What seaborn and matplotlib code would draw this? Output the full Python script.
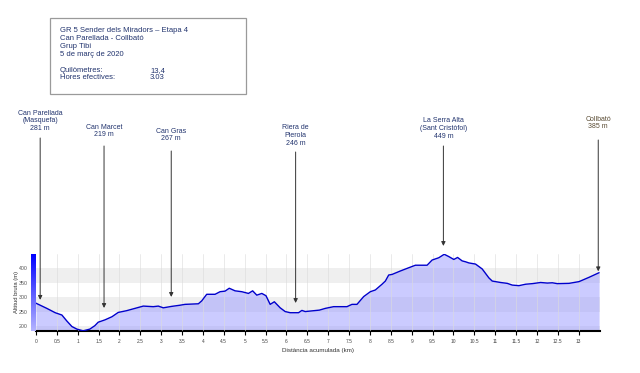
import numpy as np
import pandas as pd
import matplotlib
matplotlib.use("Agg")
import matplotlib.pyplot as plt
import seaborn as sns
from matplotlib.colors import LinearSegmentedColormap
from matplotlib.patches import Rectangle
from matplotlib.transforms import blended_transform_factory

# elevation profile
dist_km = [0.00, 0.26, 0.46, 0.62, 0.74, 0.86, 0.98, 1.13, 1.29, 1.41, 1.49, 1.65,
           1.82, 1.97, 2.17, 2.37, 2.57, 2.81, 2.93, 3.05, 3.25, 3.45, 3.57, 3.89,
           3.97, 4.09, 4.29, 4.41, 4.53, 4.63, 4.77, 4.93, 5.09, 5.19, 5.29, 5.41,
           5.51, 5.61, 5.71, 5.85, 5.97, 6.09, 6.29, 6.37, 6.45, 6.79, 6.93, 7.13,
           7.45, 7.57, 7.69, 7.85, 8.01, 8.13, 8.29, 8.37, 8.45, 8.53, 8.73, 8.89,
           9.09, 9.37, 9.49, 9.65, 9.78, 9.89, 10.01, 10.10, 10.21, 10.29, 10.37,
           10.53, 10.69, 10.85, 10.93, 11.13, 11.29, 11.41, 11.57, 11.73, 11.89,
           12.09, 12.25, 12.37, 12.49, 12.77, 13.01, 13.25, 13.37, 13.49]
alt_m = [279, 261, 246, 238, 217, 198, 189, 183, 189, 201, 213, 221,
         232, 247, 253, 261, 269, 267, 269, 263, 268, 272, 275, 277,
         287, 310, 310, 319, 321, 331, 322, 319, 313, 322, 307, 313,
         305, 275, 284, 263, 250, 246, 246, 254, 250, 255, 261, 267,
         267, 275, 275, 302, 319, 325, 345, 356, 377, 379, 391, 400,
         411, 411, 429, 437, 449, 441, 431, 438, 426, 423, 419,
         415, 398, 367, 356, 351, 348, 342, 340, 345, 347,
         351, 349, 350, 347, 348, 354, 369, 377, 385]

poi_names = ["Can Parellada\n(Masquefa)", "Can Marcet", "Can Gras",
             "Riera de\nPierola", "La Serra Alta\n(Sant Cristòfol)", "Collbató"]
poi_km = [0.10, 1.63, 3.24, 6.22, 9.76, 13.47]
poi_alt = [281, 219, 267, 246, 449, 385]

info_lines = ["GR 5 Sender dels Miradors – Etapa 4", "Can Parellada - Collbató",
              "Grup Tibi", "5 de març de 2020"]
info_keys = ["Quilòmetres:", "Hores efectives:"]
info_vals = ["13,4", "3.03"]

# layout (pixels from top of the figure)
W, H = 640, 373
label_py = [121, 131, 135, 135.5, 128.5, 123]
arrow_py = [138, 146, 151, 152, 146, 140]
tip_gap = [2, 9, 7, 7, 6, 1]
label_col = ["#22346e", "#22346e", "#22346e", "#22346e", "#22346e", "#5a4c34"]

sns.set_style("white")
plt.rcParams['font.family'] = ['Liberation Sans', 'DejaVu Sans']

fig = plt.figure(figsize=(6.4, 3.73), dpi=100)
ax = fig.add_axes([36 / W, 1 - 330.7 / H, 563.5 / W, 76.7 / H])

for lo in [150, 250, 350]:
    ax.axhspan(lo, lo + 50, color="#efefef", lw=0, zorder=0)
for x in np.arange(0.5, 13.5, 0.5):
    ax.axvline(x, color="#dcdcdc", lw=0.6, alpha=0.7, zorder=3)

df = pd.DataFrame({"km": dist_km, "alt": alt_m})
ax.fill_between(df["km"], df["alt"], 150, color="#9999ff", alpha=0.5, lw=0, zorder=2)
sns.lineplot(data=df, x="km", y="alt", ax=ax, color="#0000cc", lw=1.0, zorder=4)

ax.set_xlim(0, 13.5)
ax.set_ylim(183.5, 450)
xt = np.arange(0, 13.01, 0.5)
ax.set_xticks(xt)
ax.set_xticklabels([f"{v:g}" for v in xt], fontsize=3.5, color="#444")
ax.set_yticks([200, 250, 300, 350, 400])
ax.set_yticklabels(["200", "250", "300", "350", "400"], fontsize=3.8, color="#555")
ax.tick_params(axis="x", length=3, width=0.8, pad=3, color="black", bottom=True)
ax.tick_params(axis="y", length=0, pad=6)
for s in ["top", "right", "left"]:
    ax.spines[s].set_visible(False)
ax.spines["bottom"].set_color("black")
ax.spines["bottom"].set_linewidth(1.5)
ax.set_xlabel("Distància acumulada (km)", fontsize=4.5, color="#333", labelpad=3)
ax.set_ylabel("Altitud bruta (m)", fontsize=4.2, color="#333")
ax.yaxis.set_label_coords(-0.031, 0.5)

# gradient bar on the left
bax = fig.add_axes([31 / W, 1 - 330.7 / H, 5 / W, 76.7 / H])
cmap = LinearSegmentedColormap.from_list("bar", ["#b4b4ff", "#0000ff"])
bax.imshow(np.linspace(1, 0, 100).reshape(-1, 1), aspect="auto", cmap=cmap)
bax.axis("off")

# points of interest
trans = blended_transform_factory(ax.transData, fig.transFigure)
for name, km, alt, ly, ay, gap, col in zip(poi_names, poi_km, poi_alt, label_py,
                                           arrow_py, tip_gap, label_col):
    ax.text(km, 1 - ly / H, f"{name}\n{alt} m", transform=trans, ha="center",
            va="center", fontsize=5, color=col, linespacing=1.15)
    ax.annotate("", xy=(km, alt), xytext=(km, 1 - ay / H),
                textcoords=("data", "figure fraction"), annotation_clip=False,
                arrowprops=dict(arrowstyle="-|>", color="#333", lw=0.7,
                                mutation_scale=6, shrinkA=0, shrinkB=gap))

# info box
fig.add_artist(Rectangle((50 / W, 1 - 94 / H), 196 / W, 76 / H,
                         transform=fig.transFigure, fill=False, ec="#9a9a9a", lw=0.9))
for i, line in enumerate(info_lines):
    fig.text(60 / W, 1 - (31.8 + 8.2 * i) / H, line, fontsize=5.5, color="#22346e",
             va="baseline")
for i, (k, v) in enumerate(zip(info_keys, info_vals)):
    y = 1 - (71.8 + 7.5 * i) / H
    fig.text(60 / W, y, k, fontsize=5.5, color="#22346e", va="baseline")
    fig.text(150 / W, y, v, fontsize=5.5, color="#22346e", va="baseline")

fig.savefig("out.png", dpi=100)
